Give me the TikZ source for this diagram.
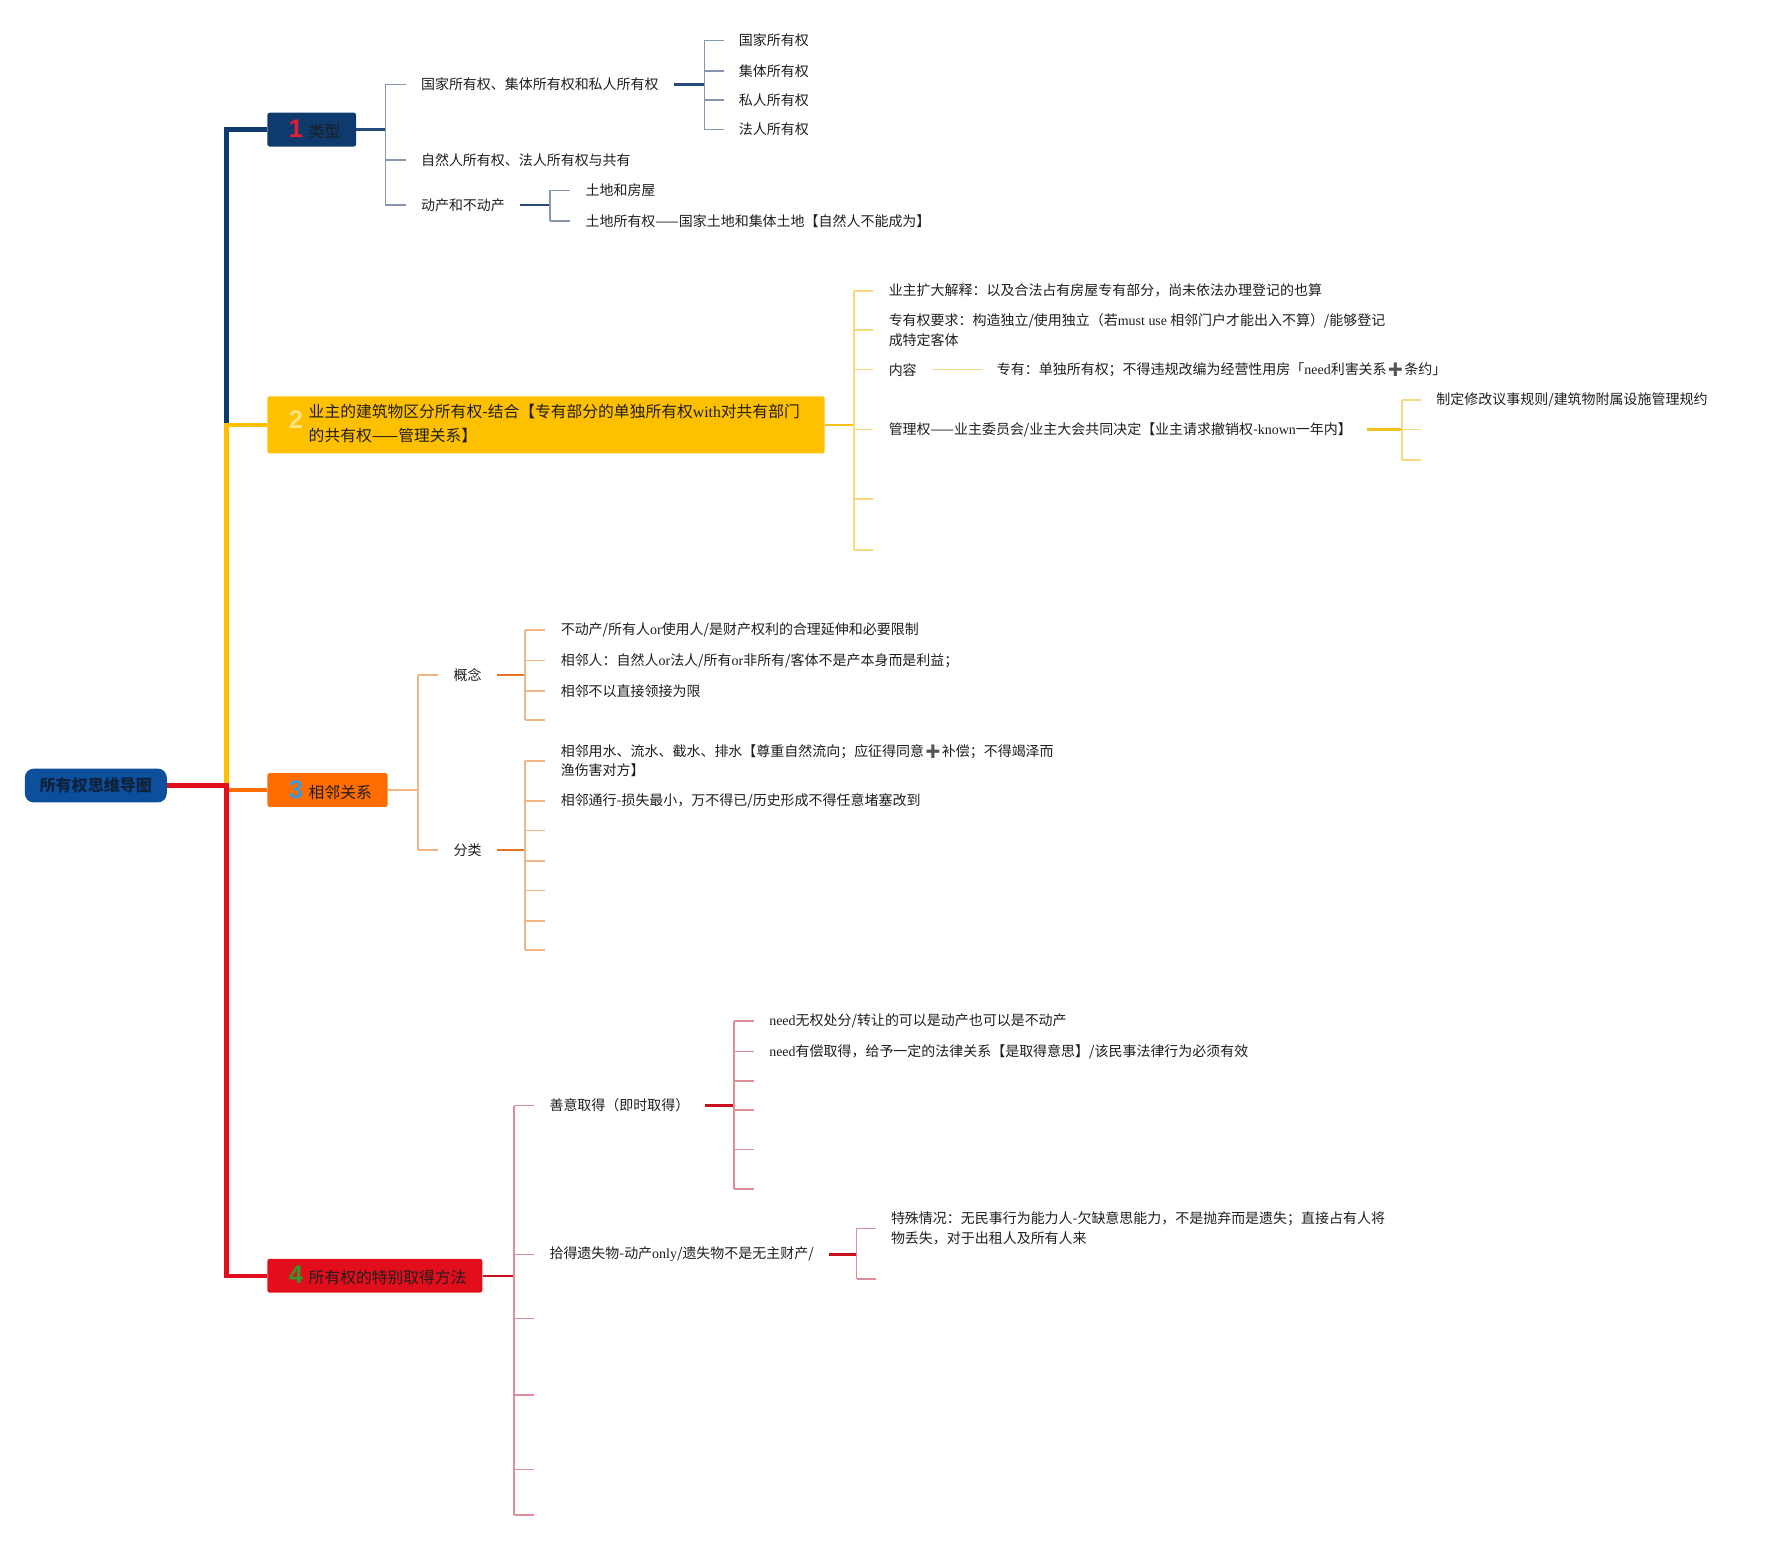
\documentclass[tikz,border=0pt]{standalone}
\usepackage{fontspec}
\setmainfont{Noto Sans CJK SC}
\newfontfamily\enfont{Liberation Serif}
\newfontfamily\numfont{Liberation Sans}
\newfontfamily\emofont{Noto Emoji}
\newcommand{\en}[1]{{\enfont #1}}
\newcommand{\plusmark}{{\emofont\color{PlusClr}➕}}
\newcommand{\topicnum}[2]{\makebox[17pt][c]{\numfont\bfseries\fontsize{17}{17}\selectfont\color{#1}#2}}
\definecolor{TxtClr}{rgb}{0.118,0.118,0.118}
\definecolor{PlusClr}{rgb}{0.33,0.33,0.33}
\definecolor{RootClr}{rgb}{0.047,0.31,0.612}
\definecolor{RootTxtClr}{rgb}{0.063,0.129,0.227}
\definecolor{BlueClr}{rgb}{0.055,0.227,0.431}
\definecolor{BlueStubClr}{rgb}{0.141,0.286,0.478}
\definecolor{BlueLineClr}{rgb}{0.518,0.592,0.682}
\definecolor{YellowClr}{rgb}{1,0.753,0}
\definecolor{YellowLineClr}{rgb}{0.969,0.855,0.494}
\definecolor{YellowStubClr}{rgb}{0.949,0.761,0.11}
\definecolor{OrangeClr}{rgb}{1,0.427,0}
\definecolor{OrangeLineClr}{rgb}{0.949,0.71,0.518}
\definecolor{OrangeStubClr}{rgb}{0.91,0.451,0.118}
\definecolor{RedClr}{rgb}{0.886,0.055,0.11}
\definecolor{RedLineClr}{rgb}{0.867,0.557,0.596}
\definecolor{RedStubClr}{rgb}{0.784,0.063,0.118}
\definecolor{NumRedClr}{rgb}{0.898,0.125,0.18}
\definecolor{NumYellowClr}{rgb}{1,0.89,0.5}
\definecolor{NumBlueClr}{rgb}{0.227,0.604,0.851}
\definecolor{NumGreenClr}{rgb}{0.18,0.604,0.18}

\begin{document}
\begin{tikzpicture}[x=0.75pt,y=-0.75pt,
  rootbox/.style={fill=RootClr,rounded corners=6pt,minimum width=94.5pt,minimum height=22.5pt,
    text=RootTxtClr,font=\bfseries\fontsize{10.7}{12}\selectfont},
  topicbox/.style={anchor=west,inner xsep=10.5pt,inner ysep=0pt,minimum height=22.5pt,
    rounded corners=1.5pt,text=TxtClr,font=\fontsize{10.5}{15.75}\selectfont},
  leafnode/.style={anchor=west,inner xsep=10pt,inner ysep=1pt,align=left,text=TxtClr,
    font=\fontsize{9.3}{13.2}\selectfont},
  trunkline/.style={line width=3pt},
  stubline/.style={line width=1.6pt},
  braceline/.style={line width=1.1pt}]
\useasboundingbox (0,0) rectangle (1567,1367);

\node[rootbox] (root) at (85,697) {所有权思维导图};
\coordinate (hub) at (201,697);

\node[topicbox,fill=BlueClr] (t1) at (237,115) {\topicnum{NumRedClr}{1}类型};
\node[topicbox,fill=YellowClr,minimum height=38pt] (t2) at (237,377) {\topicnum{NumYellowClr}{2}\begin{tabular}{@{}l@{\hspace{6pt}}}业主的建筑物区分所有权-结合【专有部分的单独所有权\en{with}对共有部门\\的共有权——管理关系】\end{tabular}};
\node[topicbox,fill=OrangeClr] (t3) at (237,701) {\topicnum{NumBlueClr}{3}相邻关系};
\node[topicbox,fill=RedClr] (t4) at (237,1132) {\topicnum{NumGreenClr}{4}所有权的特别取得方法};

\draw[trunkline,BlueClr] (root.east) -- (hub) |- (t1.west);
\draw[trunkline,YellowClr] (root.east) -- (hub) |- (t2.west);
\draw[trunkline,OrangeClr] (root.east) -- (hub) |- (t3.west);
\draw[trunkline,RedClr] (root.east) -- (hub) |- (t4.west);

\coordinate (b1) at (342,0);
\node[leafnode] (n11) at (360,75) {国家所有权、集体所有权和私人所有权};
\node[leafnode] (n12) at (360,142) {自然人所有权、法人所有权与共有};
\node[leafnode] (n13) at (360,182) {动产和不动产};
\draw[stubline,BlueStubClr] (t1.east) -- (b1 |- t1.east);
\draw[braceline,BlueLineClr] (b1 |- n11.west) -- (b1 |- n13.west);
\foreach \n in {n11,n12,n13} \draw[braceline,BlueLineClr] (b1 |- \n.west) -- (\n.west);

\coordinate (b11) at (625,0);
\node[leafnode] (n111) at (642,36) {国家所有权};
\node[leafnode] (n112) at (642,63) {集体所有权};
\node[leafnode] (n113) at (642,89) {私人所有权};
\node[leafnode] (n114) at (642,115) {法人所有权};
\draw[stubline,BlueStubClr] (n11.east) -- (b11 |- n11.east);
\draw[braceline,BlueLineClr] (b11 |- n111.west) -- (b11 |- n114.west);
\foreach \n in {n111,n112,n113,n114} \draw[braceline,BlueLineClr] (b11 |- \n.west) -- (\n.west);

\coordinate (b13) at (488,0);
\node[leafnode] (n131) at (506,169) {土地和房屋};
\node[leafnode] (n132) at (506,196) {土地所有权——国家土地和集体土地【自然人不能成为】};
\draw[stubline,BlueStubClr] (n13.east) -- (b13 |- n13.east);
\draw[braceline,BlueLineClr] (b13 |- n131.west) -- (b13 |- n132.west);
\foreach \n in {n131,n132} \draw[braceline,BlueLineClr] (b13 |- \n.west) -- (\n.west);

\coordinate (b2) at (758,0);
\node[leafnode] (n21) at (775,258) {业主扩大解释：以及合法占有房屋专有部分，尚未依法办理登记的也算};
\node[leafnode] (n22) at (775,293) {专有权要求：构造独立/使用独立（若\en{must use} 相邻门户才能出入不算）/能够登记\\成特定客体};
\node[leafnode] (n23) at (775,328) {内容};
\node[leafnode] (n24) at (775,381) {管理权——业主委员会/业主大会共同决定【业主请求撤销权-\en{known}一年内】};
\coordinate (n25) at (775,443);
\coordinate (n26) at (775,488);
\draw[stubline,YellowStubClr] (t2.east) -- (b2 |- t2.east);
\draw[braceline,YellowLineClr] (b2 |- n21.west) -- (b2 |- n26);
\foreach \n in {n21.west,n22.west,n23.west,n24.west,n25,n26} \draw[braceline,YellowLineClr] (b2 |- \n) -- (\n);

\node[leafnode] (n231) at (871,328) {专有：单独所有权；不得违规改编为经营性用房「\en{need}利害关系\plusmark 条约」};
\draw[braceline,YellowLineClr] (n23.east) -- (n231.west);

\coordinate (b24) at (1244,0);
\node[leafnode] (n241) at (1261,355) {制定修改议事规则/建筑物附属设施管理规约};
\coordinate (n242) at (1261,381);
\coordinate (n243) at (1261,408);
\draw[stubline,YellowStubClr] (n24.east) -- (b24 |- n24.east);
\draw[braceline,YellowLineClr] (b24 |- n241.west) -- (b24 |- n243);
\foreach \n in {n241.west,n242,n243} \draw[braceline,YellowLineClr] (b24 |- \n) -- (\n);

\coordinate (b3) at (371,0);
\node[leafnode] (n31) at (389,599) {概念};
\node[leafnode] (n32) at (389,754) {分类};
\draw[stubline,OrangeLineClr] (t3.east) -- (b3 |- t3.east);
\draw[braceline,OrangeLineClr] (b3 |- n31.west) -- (b3 |- n32.west);
\foreach \n in {n31,n32} \draw[braceline,OrangeLineClr] (b3 |- \n.west) -- (\n.west);

\coordinate (b31) at (466,0);
\node[leafnode] (n311) at (484,559) {不动产/所有人\en{or}使用人/是财产权利的合理延伸和必要限制};
\node[leafnode] (n312) at (484,586) {相邻人：自然人\en{or}法人/所有\en{or}非所有/客体不是产本身而是利益；};
\node[leafnode] (n313) at (484,613) {相邻不以直接领接为限};
\coordinate (n314) at (484,639);
\draw[stubline,OrangeStubClr] (n31.east) -- (b31 |- n31.east);
\draw[braceline,OrangeLineClr] (b31 |- n311.west) -- (b31 |- n314);
\foreach \n in {n311.west,n312.west,n313.west,n314} \draw[braceline,OrangeLineClr] (b31 |- \n) -- (\n);

\coordinate (b32) at (466,0);
\node[leafnode] (n321) at (484,675) {相邻用水、流水、截水、排水【尊重自然流向；应征得同意\plusmark 补偿；不得竭泽而\\渔伤害对方】};
\node[leafnode] (n322) at (484,711) {相邻通行-损失最小，万不得已/历史形成不得任意堵塞改到};
\foreach \y [count=\i from 3] in {737,764,790,817,843} \coordinate (n32\i) at (484,\y);
\draw[stubline,OrangeStubClr] (n32.east) -- (b32 |- n32.east);
\draw[braceline,OrangeLineClr] (b32 |- n321.west) -- (b32 |- n327);
\foreach \n in {n321.west,n322.west,n323,n324,n325,n326,n327} \draw[braceline,OrangeLineClr] (b32 |- \n) -- (\n);

\coordinate (b4) at (456,0);
\node[leafnode] (n41) at (474,981) {善意取得（即时取得）};
\node[leafnode] (n42) at (474,1113) {拾得遗失物-动产\en{only}/遗失物不是无主财产/};
\foreach \y [count=\i from 3] in {1170,1238,1304,1344} \coordinate (n4\i) at (474,\y);
\draw[stubline,RedStubClr] (t4.east) -- (b4 |- t4.east);
\draw[braceline,RedLineClr] (b4 |- n41.west) -- (b4 |- n46);
\foreach \n in {n41.west,n42.west,n43,n44,n45,n46} \draw[braceline,RedLineClr] (b4 |- \n) -- (\n);

\coordinate (b41) at (651,0);
\node[leafnode] (n411) at (669,906) {\en{need}无权处分/转让的可以是动产也可以是不动产};
\node[leafnode] (n412) at (669,933) {\en{need}有偿取得，给予一定的法律关系【是取得意思】/该民事法律行为必须有效};
\foreach \y [count=\i from 3] in {959,985,1020,1055} \coordinate (n41\i) at (669,\y);
\draw[stubline,RedStubClr] (n41.east) -- (b41 |- n41.east);
\draw[braceline,RedLineClr] (b41 |- n411.west) -- (b41 |- n416);
\foreach \n in {n411.west,n412.west,n413,n414,n415,n416} \draw[braceline,RedLineClr] (b41 |- \n) -- (\n);

\coordinate (b42) at (760,0);
\node[leafnode] (n421) at (777,1090) {特殊情况：无民事行为能力人-欠缺意思能力，不是抛弃而是遗失；直接占有人将\\物丢失，对于出租人及所有人来};
\coordinate (n422) at (777,1135);
\draw[stubline,RedStubClr] (n42.east) -- (b42 |- n42.east);
\draw[braceline,RedLineClr] (b42 |- n421.west) -- (b42 |- n422);
\foreach \n in {n421.west,n422} \draw[braceline,RedLineClr] (b42 |- \n) -- (\n);

\end{tikzpicture}
\end{document}
